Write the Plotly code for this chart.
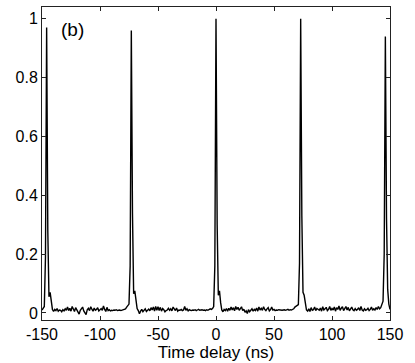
import numpy as np
import plotly.graph_objects as go

# Time axis (ns), 1 ns sampling from -150 to 150
time_ns = np.arange(-150, 151, 1)

# Normalised coincidence counts (x1e-3), one row per 10 ns
counts_milli = [
    10, 18, 22, 190, 970, 280, 55, 70, 35, 12,      # -150..-141
    5, 12, 8, 15, 6, 10, 9, 4, 11, 7,               # -140..-131
    14, 9, 20, 8, 16, 6, 22, 10, 5, 18,             # -130..-121
    12, 3, -4, 9, 14, 20, 7, 2, -6, 11,             # -120..-111
    16, 8, 21, 13, 6, 17, 9, 12, 18, 7,             # -110..-101
    10, 15, 9, 24, 12, 5, 19, 8, 11, 7,             # -100..-91
    9, 8, 10, 9, 11, 8, 9, 10, 8, 9,                # -90..-81
    10, 12, 14, 20, 25, 30, 160, 960, 340, 65,      # -80..-71
    75, 40, 15, 8, -3, 6, 12, 4, 10, 14,            # -70..-61
    5, 9, 13, 7, 18, 10, 20, 6, 22, 9,              # -60..-51
    21, 8, 19, 6, 15, 11, 4, 8, 10, 16,             # -50..-41
    9, 14, 7, 20, 12, 8, 17, 6, 10, 9,              # -40..-31
    12, 8, 10, 22, 9, 14, 7, 11, 9, 8,              # -30..-21
    10, 9, 11, 8, 10, 12, 9, 10, 11, 9,             # -20..-11
    10, 8, 11, 9, 12, 14, 12, 15, 22, 160,          # -10..-1
    1000, 300, 60, 75, 35, 10, 4, 12, 8, 15,        # 0..9
    6, 16, 9, 20, 10, 18, 7, 22, 12, 19,            # 10..19
    9, 15, 21, 8, 13, 2, 7, -2, 11, 4,              # 20..29
    9, 14, 6, 12, 8, 17, 6, 20, 10, 16,             # 30..39
    9, 21, 12, 8, 14, 18, 7, 11, 20, 10,            # 40..49
    12, 8, 10, 9, 11, 10, 8, 9, 10, 11,             # 50..59
    9, 10, 12, 9, 11, 10, 12, 14, 20, 22,           # 60..69
    25, 28, 170, 1000, 330, 70, 60, 30, 10, 6,      # 70..79
    14, 5, 18, 9, 11, 20, 8, 15, 12, 9,             # 80..89
    17, 6, 21, 10, 14, 19, 8, 12, 22, 9,            # 90..99
    15, 10, 20, 6, 18, 12, 24, 9, 16, 21,           # 100..109
    8, 14, 22, 10, 19, 7, 13, 20, 11, 8,            # 110..119
    15, 9, 12, 18, 8, 22, 10, 7, 14, 9,             # 120..129
    11, 16, 8, 12, 20, 9, 14, 10, 18, 12,           # 130..139
    22, 14, 18, 30, 40, 200, 940, 320, 80, 30,      # 140..149
    12,                                             # 150
]
counts = np.array(counts_milli) / 1000.0

x_ticks = [-150, -100, -50, 0, 50, 100, 150]
x_tick_labels = ["-150", "-100", "-50", "0", "50", "100", "150"]
y_ticks = [0, 0.2, 0.4, 0.6, 0.8, 1]
y_tick_labels = ["0", "0.2", "0.4", "0.6", "0.8", "1"]

FONT = "Liberation Sans, Arial, Helvetica, sans-serif"

fig = go.Figure()
fig.add_trace(go.Scatter(
    x=time_ns, y=counts, mode="lines",
    line=dict(color="black", width=1.4),
    showlegend=False,
))

axis_style = dict(
    showline=True, linecolor="#222", linewidth=1, mirror="ticks",
    ticks="inside", ticklen=4, tickcolor="#222", tickwidth=1,
    showgrid=False, zeroline=False,
    tickfont=dict(family=FONT, size=16, color="black"),
)

fig.update_xaxes(
    range=[-150, 150], tickvals=x_ticks, ticktext=x_tick_labels,
    title=dict(text="Time delay (ns)", font=dict(family=FONT, size=17, color="black"), standoff=0),
    **axis_style,
)
fig.update_yaxes(range=[-0.024, 1.04], tickvals=y_ticks, ticktext=y_tick_labels, **axis_style)

fig.add_annotation(
    x=-135, y=0.965, xref="x", yref="y", text="(b)", showarrow=False,
    xanchor="left", yanchor="middle", font=dict(family=FONT, size=19, color="black"),
)

fig.update_layout(
    width=415, height=363,
    margin=dict(l=42, r=25, t=7, b=43),
    plot_bgcolor="white", paper_bgcolor="white",
)

# drop the browser's default body margin so the figure sits at the page corner
fig.write_html(
    "out.html",
    config={"displayModeBar": False},
    post_script="document.body.style.margin='0';",
)
